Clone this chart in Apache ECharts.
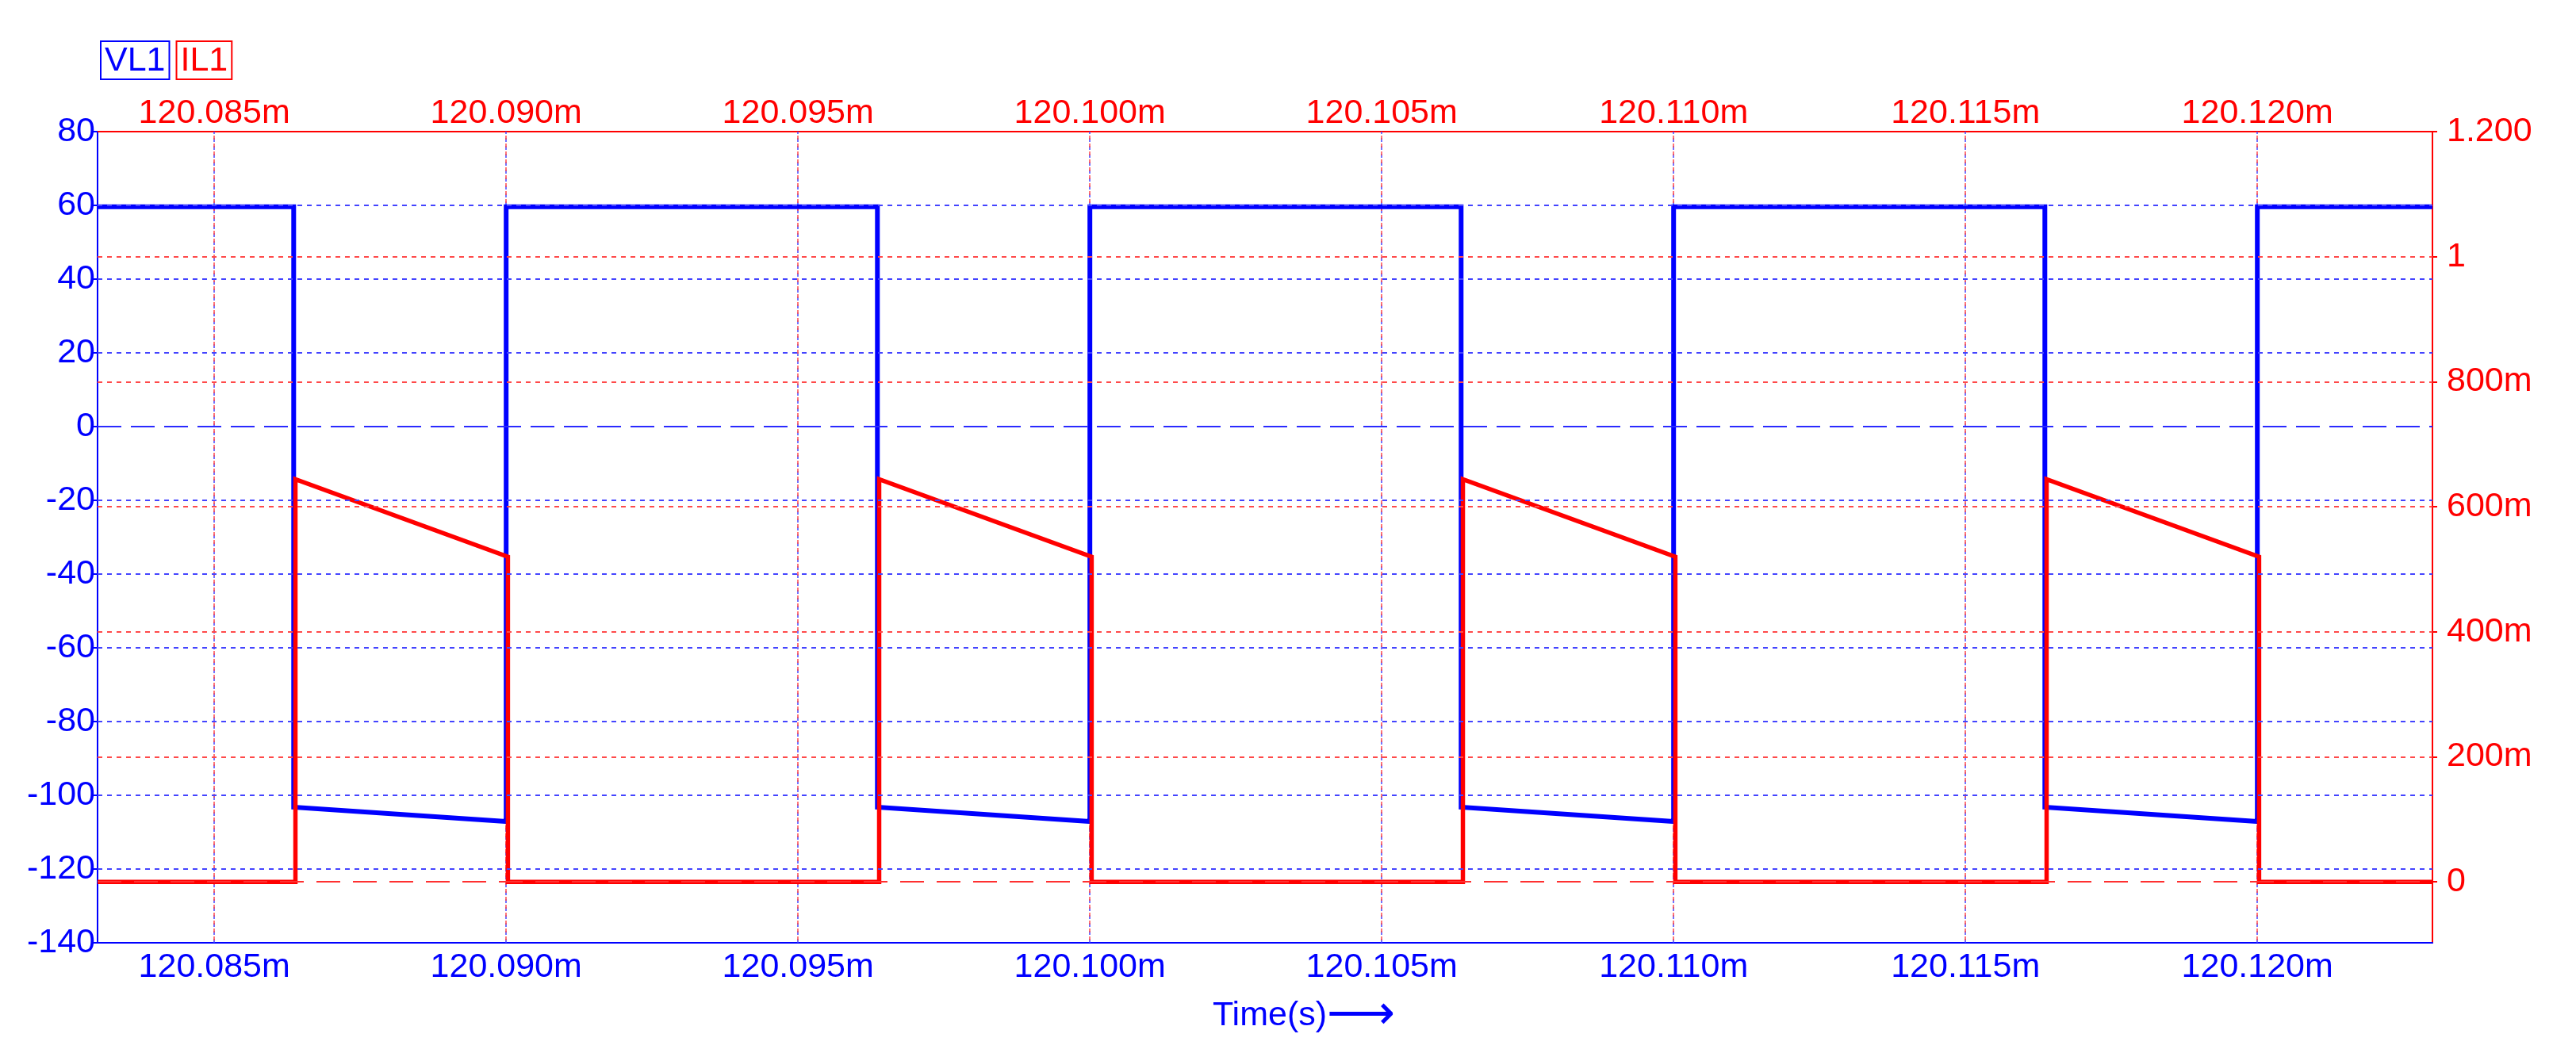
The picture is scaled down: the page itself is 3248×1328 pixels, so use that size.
<!DOCTYPE html>
<html>
<head>
<meta charset="utf-8">
<script src="https://cdn.jsdelivr.net/npm/echarts@6/dist/echarts.min.js"></script>
<style>html,body{margin:0;padding:0;background:#fff}#c{width:3248px;height:1328px}</style>
</head>
<body>
<div id="c"></div>
<script>
// ---- data (time in ms) ----
const timeTicks = [120.085, 120.090, 120.095, 120.100, 120.105, 120.110, 120.115, 120.120];
const voltTicks = [-140, -120, -100, -80, -60, -40, -20, 0, 20, 40, 60, 80];
const currTicks = [0, 0.2, 0.4, 0.6, 0.8, 1.0, 1.2];

const vl1Time  = [120.083, 120.08636, 120.08636, 120.08636, 120.0900, 120.0900,
                  120.09636, 120.09636, 120.09636, 120.1000, 120.1000,
                  120.10636, 120.10636, 120.10636, 120.1100, 120.1100,
                  120.11636, 120.11636, 120.11636, 120.1200, 120.1200, 120.123];
const vl1Value = [59.6, 59.6, -68.4, -103.2, -107.1, 59.6,
                  59.6, -68.4, -103.2, -107.1, 59.6,
                  59.6, -68.4, -103.2, -107.1, 59.6,
                  59.6, -68.4, -103.2, -107.1, 59.6, 59.6];

const il1Time  = [120.083, 120.08639, 120.08639, 120.09003, 120.09003,
                  120.09639, 120.09639, 120.10003, 120.10003,
                  120.10639, 120.10639, 120.11003, 120.11003,
                  120.11639, 120.11639, 120.12003, 120.12003, 120.123];
const il1Value = [0, 0, 0.644, 0.520, 0,
                  0, 0.644, 0.520, 0,
                  0, 0.644, 0.520, 0,
                  0, 0.644, 0.520, 0, 0];

const BLUE = '#0000ff', RED = '#ff0000';
const FONT = "'Liberation Sans', Arial, sans-serif";

const vl1Data = vl1Time.map((t, i) => [t, vl1Value[i]]);
const il1Data = il1Time.map((t, i) => [t, il1Value[i]]);

function fmtTime(v) { return v.toFixed(3) + 'm'; }
function fmtCurr(v) {
  const r = Math.round(v * 1000);
  if (r === 0) return '0';
  if (r === 1000) return '1';
  if (r === 1200) return '1.200';
  return r + 'm';
}

// horizontal grid lines built from the tick arrays
const voltGrid = voltTicks.filter(v => v > -140 && v < 80).map(v => ({
  yAxis: v,
  lineStyle: v === 0 ? {color: '#2a2aff', width: 2, type: [30, 12]}
                     : {color: '#4444ff', width: 2, type: [6, 6]}
}));
const currGrid = currTicks.filter(v => v < 1.2).map(v => ({
  yAxis: v,
  lineStyle: v === 0 ? {color: '#ff3030', width: 2, type: [30, 16]}
                     : {color: '#ff4a4a', width: 2, type: [6, 6]}
}));

const PLOT_H = 1328 - 166 - 139;

const chart = echarts.init(document.getElementById('c'), null, {renderer: 'canvas'});
chart.setOption({
  animation: false,
  backgroundColor: '#ffffff',
  textStyle: {fontFamily: FONT},
  legend: {
    left: 117, top: 46, itemGap: 3, icon: 'none', itemWidth: 0, itemHeight: 0,
    selectedMode: false,
    data: ['VL1', 'IL1'],
    formatter: n => (n === 'VL1' ? '{v|VL1}' : '{i|IL1}'),
    textStyle: {
      fontFamily: FONT,
      rich: {
        v: {color: BLUE, fontSize: 43, fontFamily: FONT, lineHeight: 43, borderColor: BLUE, borderWidth: 2, padding: [4, 5, 1, 5]},
        i: {color: RED, fontSize: 43, fontFamily: FONT, lineHeight: 43, borderColor: RED, borderWidth: 2, padding: [4, 5, 1, 5]}
      }
    }
  },
  grid: {left: 123, right: 181, top: 166, bottom: 139, containLabel: false},
  xAxis: [
    {
      type: 'value', position: 'bottom', min: 120.083, max: 120.123,
      axisLine: {show: true, onZero: false, lineStyle: {color: BLUE, width: 2}},
      axisTick: {show: true, customValues: timeTicks, inside: true, length: PLOT_H,
                 lineStyle: {color: '#4444ff', width: 1.5, type: [5, 5]}},
      splitLine: {show: false},
      axisLabel: {customValues: timeTicks, formatter: fmtTime, color: BLUE, fontSize: 43, fontFamily: FONT, margin: 10},
      name: '{t|Time(s)}{a|⟶}',
      nameLocation: 'middle', nameGap: 62,
      nameTextStyle: {
        padding: [0, 0, 0, 98],
        rich: {
          t: {color: BLUE, fontSize: 43, fontFamily: FONT},
          a: {color: BLUE, fontSize: 60, fontFamily: "'DejaVu Sans'"}
        }
      }
    },
    {
      type: 'value', position: 'top', min: 120.083, max: 120.123,
      axisLine: {show: true, onZero: false, lineStyle: {color: RED, width: 2}},
      axisTick: {show: true, customValues: timeTicks, inside: true, length: PLOT_H,
                 lineStyle: {color: '#ff4a4a', width: 1.5, type: [5, 5], dashOffset: 5}},
      splitLine: {show: false},
      axisLabel: {customValues: timeTicks, formatter: fmtTime, color: RED, fontSize: 43, fontFamily: FONT, margin: 1}
    }
  ],
  yAxis: [
    {
      type: 'value', position: 'left', min: -140, max: 80, interval: 20,
      axisLine: {show: true, onZero: false, lineStyle: {color: BLUE, width: 2}},
      axisTick: {show: true, length: 5, lineStyle: {color: BLUE, width: 2}},
      splitLine: {show: false},
      axisLabel: {color: BLUE, fontSize: 43, fontFamily: FONT, margin: 3}
    },
    {
      type: 'value', position: 'right', min: -0.0975, max: 1.2,
      axisLine: {show: true, onZero: false, lineStyle: {color: RED, width: 2}},
      axisTick: {show: true, length: 6, customValues: currTicks, lineStyle: {color: RED, width: 2}},
      splitLine: {show: false},
      axisLabel: {customValues: currTicks, formatter: fmtCurr, color: RED, fontSize: 43, fontFamily: FONT, margin: 18}
    }
  ],
  series: [
    {
      name: 'gridV', type: 'line', xAxisIndex: 0, yAxisIndex: 0, data: [], z: 1, silent: true,
      markLine: {silent: true, symbol: ['none', 'none'], label: {show: false}, animation: false,
                 data: voltGrid}
    },
    {
      name: 'gridI', type: 'line', xAxisIndex: 0, yAxisIndex: 1, data: [], z: 1, silent: true,
      markLine: {silent: true, symbol: ['none', 'none'], label: {show: false}, animation: false,
                 data: currGrid}
    },
    {
      name: 'VL1', type: 'line', xAxisIndex: 0, yAxisIndex: 0, data: vl1Data, z: 3,
      showSymbol: false, symbol: 'none', color: BLUE,
      lineStyle: {color: BLUE, width: 6, join: 'miter'}
    },
    {
      name: 'IL1', type: 'line', xAxisIndex: 0, yAxisIndex: 1, data: il1Data, z: 4,
      showSymbol: false, symbol: 'none', color: RED,
      lineStyle: {color: RED, width: 5.5, join: 'miter'}
    }
  ]
});
</script>
</body>
</html>
